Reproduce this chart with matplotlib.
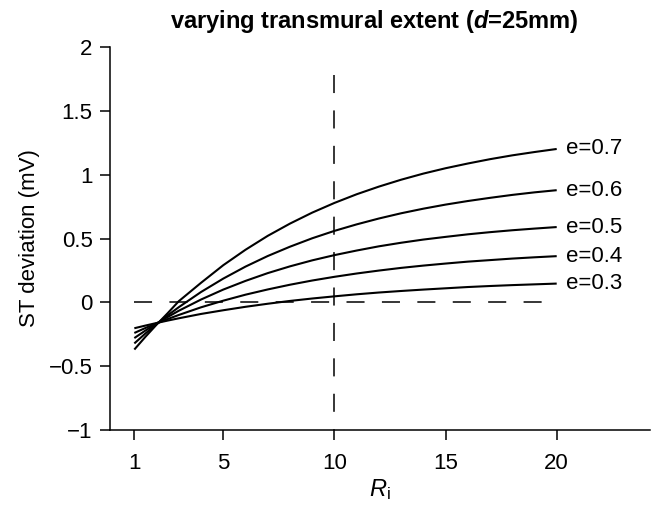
#%% IMPORTS
import matplotlib
matplotlib.use('Agg')
from matplotlib import pyplot as plt

#%% DATA
# R_i sample points
r_i = [1, 1.5, 2, 2.5, 3, 4, 5, 6, 7, 8, 9, 10,
       11, 12, 13, 14, 15, 16, 17, 18, 19, 20]

# ST deviation (mV) for each transmural extent
st_e07 = [-0.370, -0.270, -0.175, -0.085, 0.009, 0.153, 0.291, 0.412, 0.521, 0.617, 0.703,
          0.779, 0.847, 0.907, 0.961, 1.009, 1.051, 1.088, 1.122, 1.152, 1.178, 1.202]
st_e06 = [-0.322, -0.244, -0.171, -0.102, -0.038, 0.081, 0.186, 0.280, 0.363, 0.436, 0.502,
          0.560, 0.611, 0.657, 0.698, 0.734, 0.766, 0.794, 0.819, 0.842, 0.862, 0.879]
st_e05 = [-0.280, -0.221, -0.166, -0.115, -0.066, 0.022, 0.100, 0.168, 0.229, 0.282, 0.329,
          0.370, 0.406, 0.439, 0.467, 0.492, 0.513, 0.533, 0.550, 0.565, 0.578, 0.590]
st_e04 = [-0.240, -0.201, -0.165, -0.131, -0.099, -0.039, 0.013, 0.060, 0.101, 0.138, 0.171,
          0.200, 0.226, 0.249, 0.270, 0.288, 0.304, 0.319, 0.331, 0.343, 0.353, 0.362]
st_e03 = [-0.203, -0.182, -0.162, -0.143, -0.125, -0.091, -0.062, -0.035, -0.011, 0.011, 0.030,
          0.047, 0.063, 0.077, 0.089, 0.100, 0.110, 0.120, 0.128, 0.135, 0.141, 0.147]

series = [st_e07, st_e06, st_e05, st_e04, st_e03]
series_labels = ['e=0.7', 'e=0.6', 'e=0.5', 'e=0.4', 'e=0.3']

x_ticks = [1, 5, 10, 15, 20]
y_ticks = [-1, -0.5, 0, 0.5, 1, 1.5, 2]
y_ticklabels = ['\u22121', '\u22120.5', '0', '0.5', '1', '1.5', '2']

#%% CONFIGURATION
plt.rcParams['font.family'] = ['Liberation Sans', 'DejaVu Sans']
plt.rcParams['mathtext.fontset'] = 'custom'
plt.rcParams['mathtext.rm'] = 'Liberation Sans'
plt.rcParams['mathtext.it'] = 'Liberation Sans:italic'
plt.rcParams['mathtext.bf'] = 'Liberation Sans:bold'
plt.rcParams['mathtext.bfit'] = 'Liberation Sans:italic:bold'
plt.rcParams['lines.scale_dashes'] = False

#%% PLOT
fig = plt.figure(figsize=(6.54, 5.07), dpi=100)
ax = fig.add_axes([0.168, 0.152, 0.826, 0.755])

for vals in series:
    ax.plot(r_i, vals, color='black', lw=1.5, solid_capstyle='butt')
#

# reference lines (dashed)
ax.plot([1, 20], [0, 0], color='black', lw=1.1, ls=(0, (13, 12.5)))
ax.plot([10, 10], [1.78, -1], color='black', lw=1.1, ls=(0, (13, 12.5)))

# curve labels at the right end
for vals, lab in zip(series, series_labels):
    ax.text(20.4, vals[-1], lab, fontsize=16, va='center', ha='left')
#

ax.set_xlim(-0.1, 24.2)
ax.set_ylim(-1, 2)
ax.set_xticks(x_ticks)
ax.set_yticks(y_ticks)
ax.set_yticklabels(y_ticklabels)
ax.tick_params(direction='out', length=7.5, width=1.1, labelsize=16, pad=5)
ax.tick_params(axis='x', pad=9)

for side in ['top', 'right']:
    ax.spines[side].set_visible(False)
#
for side in ['left', 'bottom']:
    ax.spines[side].set_linewidth(1.1)
#

ax.set_ylabel('ST deviation (mV)', fontsize=16, labelpad=6)
ax.set_xlabel(r'$R_\mathrm{i}$', fontsize=17, labelpad=2)

fig.text(0.573, 0.958, r'varying transmural extent ($\mathbfit{d}$=25mm)',
         fontsize=17, fontweight='bold', ha='center', va='center')

fig.savefig('out.png', dpi=100)
